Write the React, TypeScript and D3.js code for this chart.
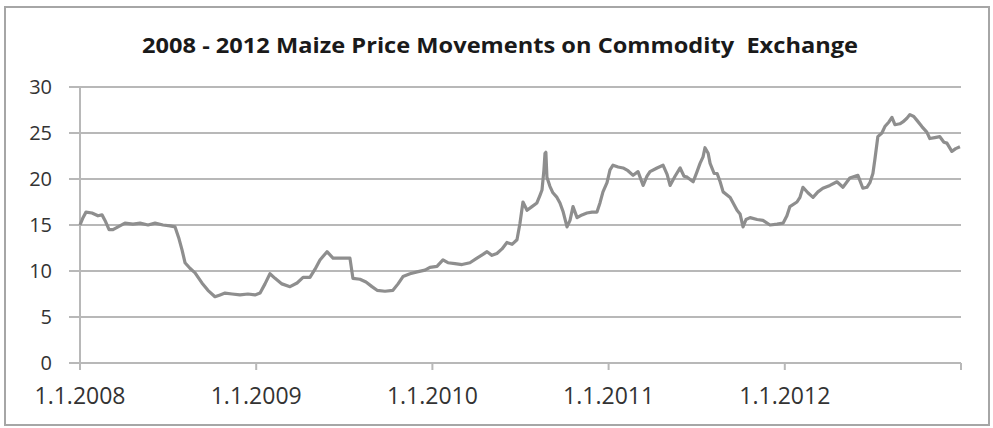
import { useEffect, useRef } from 'react';
import * as d3 from 'd3';

// time as decimal years, price per unit
const years = [
  2008.000, 2008.017, 2008.034, 2008.068, 2008.102, 2008.125, 2008.142, 2008.165, 2008.187, 2008.216,
  2008.255, 2008.301, 2008.341, 2008.386, 2008.426, 2008.471, 2008.511, 2008.539, 2008.562, 2008.579,
  2008.596, 2008.624, 2008.653, 2008.692, 2008.726, 2008.766, 2008.795, 2008.823, 2008.863, 2008.908,
  2008.953, 2008.993, 2009.022, 2009.050, 2009.078, 2009.107, 2009.146, 2009.192, 2009.232, 2009.266,
  2009.305, 2009.334, 2009.362, 2009.402, 2009.436, 2009.476, 2009.532, 2009.549, 2009.589, 2009.623,
  2009.657, 2009.686, 2009.731, 2009.776, 2009.805, 2009.833, 2009.873, 2009.913, 2009.958, 2009.986,
  2010.026, 2010.060, 2010.088, 2010.128, 2010.168, 2010.213, 2010.253, 2010.287, 2010.310, 2010.338,
  2010.366, 2010.395, 2010.423, 2010.452, 2010.480, 2010.497, 2010.514, 2010.537, 2010.565, 2010.593,
  2010.610, 2010.622, 2010.633, 2010.639, 2010.644, 2010.650, 2010.667, 2010.684, 2010.707, 2010.724,
  2010.741, 2010.764, 2010.781, 2010.798, 2010.821, 2010.849, 2010.877, 2010.906, 2010.934, 2010.951,
  2010.968, 2010.991, 2011.008, 2011.025, 2011.054, 2011.082, 2011.110, 2011.139, 2011.167, 2011.196,
  2011.218, 2011.235, 2011.275, 2011.309, 2011.332, 2011.349, 2011.377, 2011.406, 2011.428, 2011.446,
  2011.480, 2011.502, 2011.519, 2011.536, 2011.547, 2011.565, 2011.576, 2011.599, 2011.616, 2011.633,
  2011.650, 2011.690, 2011.729, 2011.746, 2011.763, 2011.780, 2011.803, 2011.843, 2011.876, 2011.916,
  2011.956, 2011.990, 2012.012, 2012.029, 2012.069, 2012.086, 2012.103, 2012.131, 2012.160, 2012.188,
  2012.216, 2012.256, 2012.296, 2012.330, 2012.369, 2012.415, 2012.443, 2012.466, 2012.483, 2012.500,
  2012.511, 2012.528, 2012.551, 2012.568, 2012.591, 2012.608, 2012.625, 2012.653, 2012.670, 2012.693,
  2012.710, 2012.732, 2012.749, 2012.778, 2012.806, 2012.823, 2012.851, 2012.880, 2012.903, 2012.920,
  2012.948, 2012.970, 2012.994,
];

const prices = [
  15.0, 15.8, 16.4, 16.3, 16.0, 16.1, 15.5, 14.5, 14.5, 14.8,
  15.2, 15.1, 15.2, 15.0, 15.2, 15.0, 14.9, 14.8, 13.5, 12.3,
  10.9, 10.3, 9.8, 8.7, 7.9, 7.2, 7.4, 7.6, 7.5, 7.4,
  7.5, 7.4, 7.6, 8.6, 9.7, 9.2, 8.6, 8.3, 8.7, 9.3,
  9.3, 10.2, 11.2, 12.1, 11.4, 11.4, 11.4, 9.2, 9.1, 8.8,
  8.3, 7.9, 7.8, 7.9, 8.6, 9.4, 9.7, 9.9, 10.1, 10.4,
  10.5, 11.2, 10.9, 10.8, 10.7, 10.9, 11.4, 11.8, 12.1, 11.7,
  11.9, 12.4, 13.1, 12.9, 13.4, 15.2, 17.5, 16.6, 17.0, 17.4,
  18.2, 18.8, 21.0, 22.8, 22.9, 20.2, 19.2, 18.5, 18.0, 17.4,
  16.5, 14.8, 15.5, 17.0, 15.8, 16.1, 16.3, 16.4, 16.4, 17.4,
  18.6, 19.6, 21.0, 21.5, 21.3, 21.2, 20.9, 20.4, 20.8, 19.3,
  20.3, 20.8, 21.2, 21.5, 20.5, 19.3, 20.3, 21.2, 20.3, 20.2,
  19.7, 20.8, 21.7, 22.4, 23.4, 22.8, 21.7, 20.6, 20.6, 19.7,
  18.6, 18.0, 16.6, 16.2, 14.8, 15.6, 15.8, 15.6, 15.5, 15.0,
  15.1, 15.2, 16.0, 17.0, 17.5, 18.0, 19.1, 18.5, 18.0, 18.6,
  19.0, 19.3, 19.7, 19.1, 20.1, 20.4, 19.0, 19.1, 19.6, 20.6,
  22.1, 24.6, 25.0, 25.7, 26.2, 26.7, 25.9, 26.0, 26.2, 26.6,
  27.0, 26.8, 26.4, 25.7, 25.1, 24.4, 24.5, 24.6, 24.0, 23.9,
  23.0, 23.3, 23.5,
];

const yTicks = [0, 5, 10, 15, 20, 25, 30];
const xTickYears = [2008, 2009, 2010, 2011, 2012, 2013];
const xLabelYears = [2008, 2009, 2010, 2011, 2012];
const title = '2008 - 2012 Maize Price Movements on Commodity  Exchange';

const W = 993;
const H = 428;
const gridColor = '#b8b8b8';
const lineColor = '#8e8e8e';
const textColor = '#333';
const font = '"Open Sans", sans-serif';

const App = () => {
  const svgRef = useRef<SVGSVGElement>(null);

  useEffect(() => {
    const svg = d3.select(svgRef.current);
    svg.selectAll('*').remove();

    const x = d3.scaleLinear().domain([2008, 2013]).range([80, 961]);
    const y = d3.scaleLinear().domain([0, 30]).range([363, 87]);

    // outer frame
    svg.append('rect')
      .attr('x', 5).attr('y', 7)
      .attr('width', 984).attr('height', 418)
      .attr('fill', '#fff')
      .attr('stroke', '#a6a6a6')
      .attr('stroke-width', 2);

    // title
    svg.append('text')
      .attr('x', 500)
      .attr('y', 53)
      .attr('text-anchor', 'middle')
      .attr('font-family', font)
      .attr('font-weight', 'bold')
      .attr('font-size', 21)
      .attr('fill', '#1a1a1a')
      .attr('textLength', 716)
      .attr('lengthAdjust', 'spacingAndGlyphs')
      .style('white-space', 'pre')
      .text(title);

    // horizontal gridlines + left ticks
    svg.append('g')
      .selectAll('line')
      .data(yTicks)
      .join('line')
      .attr('x1', 69)
      .attr('x2', x(2013))
      .attr('y1', d => y(d))
      .attr('y2', d => y(d))
      .attr('stroke', gridColor)
      .attr('stroke-width', 2);

    // y axis line
    svg.append('line')
      .attr('x1', x(2008)).attr('x2', x(2008))
      .attr('y1', y(30)).attr('y2', y(0) + 6)
      .attr('stroke', gridColor)
      .attr('stroke-width', 2);

    // y labels
    svg.append('g')
      .selectAll('text')
      .data(yTicks)
      .join('text')
      .attr('x', 52)
      .attr('y', d => y(d))
      .attr('dy', '0.36em')
      .attr('text-anchor', 'end')
      .attr('font-family', font)
      .attr('font-size', 20)
      .attr('fill', textColor)
      .text(d => d);

    // x tick marks
    svg.append('g')
      .selectAll('line')
      .data(xTickYears)
      .join('line')
      .attr('x1', d => x(d))
      .attr('x2', d => x(d))
      .attr('y1', y(0))
      .attr('y2', y(0) + 7)
      .attr('stroke', gridColor)
      .attr('stroke-width', 2);

    // x labels
    svg.append('g')
      .selectAll('text')
      .data(xLabelYears)
      .join('text')
      .attr('x', d => x(d))
      .attr('y', 404)
      .attr('text-anchor', 'middle')
      .attr('font-family', font)
      .attr('font-size', 23)
      .attr('fill', textColor)
      .text(d => `1.1.${d}`);

    // price line
    const pts = years.map((t, i) => [t, prices[i]] as [number, number]);
    const line = d3.line<[number, number]>()
      .x(d => x(d[0]))
      .y(d => y(d[1]));

    svg.append('path')
      .datum(pts)
      .attr('d', line)
      .attr('fill', 'none')
      .attr('stroke', lineColor)
      .attr('stroke-width', 3.2)
      .attr('stroke-linejoin', 'round');
  }, []);

  return (
    <div style={{ position: 'absolute', left: 0, top: 0 }}>
      <svg ref={svgRef} width={W} height={H} style={{ display: 'block', background: '#fff' }}></svg>
    </div>
  );
};

export default App;
